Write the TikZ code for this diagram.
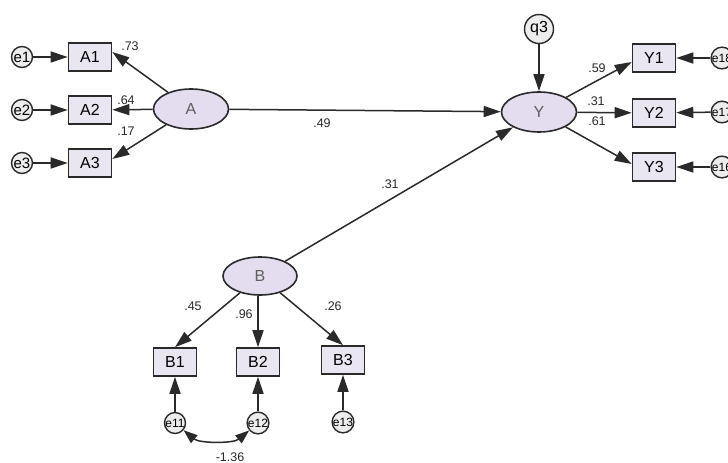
\documentclass[tikz,border=0pt]{standalone}
\usepackage{fontspec}
\setmainfont{Liberation Sans}
\usetikzlibrary{shapes.geometric,arrows.meta}
\definecolor{boxfill}{HTML}{E9E5F1}
\definecolor{latfill}{HTML}{E4DDF0}
\definecolor{errfill}{HTML}{EDEDED}
\definecolor{ink}{HTML}{2A2A2A}
\tikzset{
  obsbox/.style={draw=ink, fill=boxfill, line width=1.6pt, minimum width=43pt, minimum height=28pt, inner sep=0pt, font=\fontsize{16}{16}\selectfont},
  latent/.style={ellipse, draw=ink, fill=latfill, line width=1.6pt, minimum width=75pt, minimum height=40pt, inner sep=0pt, font=\fontsize{16}{16}\selectfont, text=ink!75},
  errc/.style={circle, draw=ink, fill=errfill, line width=1.4pt, minimum size=21pt, inner sep=0pt, font=\fontsize{15}{15}\selectfont},
  errs/.style={errc, minimum size=21pt, font=\fontsize{12}{12}\selectfont},
  pth/.style={draw=ink, line width=1.5pt, -{Triangle[length=17pt,width=11pt]}},
  coef/.style={font=\fontsize{12.5}{12.5}\selectfont, text=ink, inner sep=0pt}
}
\begin{document}
\begin{tikzpicture}[x=1pt,y=-1pt]
\useasboundingbox (0,0) rectangle (728,463);
\fill[white] (0,0) rectangle (728,463);
% observed A
\node[obsbox] (A1) at (90,57) {A1};
\node[obsbox] (A2) at (90,110) {A2};
\node[obsbox] (A3) at (90,163) {A3};
\node[errc] (e1) at (22,57) {e1};
\node[errc] (e2) at (22,110) {e2};
\node[errc] (e3) at (22,163) {e3};
\node[latent] (A) at (191,109) {A};
% Y side
\node[latent] (Y) at (539,112) {Y};
\node[errc, minimum size=29pt, font=\fontsize{16}{16}\selectfont] (q3) at (539,29) {q3};
\node[obsbox] (Y1) at (654,58) {Y1};
\node[obsbox] (Y2) at (654,113) {Y2};
\node[obsbox] (Y3) at (654,167) {Y3};
\node[errs] (e18) at (722,58) {e18};
\node[errs] (e17) at (722,112) {e17};
\node[errs] (e16) at (722,167) {e16};
% B side
\node[latent, minimum width=74pt, minimum height=38pt] (B) at (260,276) {B};
\node[obsbox] (B1) at (175,362) {B1};
\node[obsbox] (B2) at (258,362) {B2};
\node[obsbox] (B3) at (343,360) {B3};
\node[errs] (e11) at (175,423) {e11};
\node[errs] (e12) at (258,423) {e12};
\node[errs] (e13) at (343,422) {e13};
% error arrows
\draw[pth] (e1) -- (A1);
\draw[pth] (e2) -- (A2);
\draw[pth] (e3) -- (A3);
\draw[pth] (e18) -- (Y1);
\draw[pth] (e17) -- (Y2);
\draw[pth] (e16) -- (Y3);
\draw[pth] (q3) -- (Y);
\draw[pth] (e11) -- (B1);
\draw[pth] (e12) -- (B2);
\draw[pth] (e13) -- (B3);
% loadings
\draw[pth] (A) -- ([yshift=5pt]A1.east);
\draw[pth] (A) -- (A2);
\draw[pth] (A) -- ([yshift=4pt]A3.east);
\draw[pth] (Y) -- ([yshift=-4pt]Y1.west);
\draw[pth] (Y) -- (Y2);
\draw[pth] (Y) -- ([yshift=3pt]Y3.west);
\draw[pth] (B) -- (B1.north);
\draw[pth] (B.south -| B2.north) -- (B2.north);
\draw[pth] (B) -- (B3.north);
% structural
\draw[pth] (A) -- (Y);
\draw[pth] (B) -- (Y);
% covariance
\draw[draw=ink, line width=1.5pt, {Triangle[length=14pt,width=10pt]}-{Triangle[length=14pt,width=10pt]}] (e11) to[out=-40,in=-140, looseness=0.8] (e12);
% coefficients
\node[coef] (c1) at (130,46) {.73};
\node[coef] (c2) at (126,100) {.64};
\node[coef] (c3) at (126,131) {.17};
\node[coef] (c4) at (322,123) {.49};
\node[coef] (c5) at (390,184) {.31};
\node[coef] (c6) at (597,68) {.59};
\node[coef] (c7) at (596,101) {.31};
\node[coef] (c8) at (597,121) {.61};
\node[coef] (c9) at (193,306) {.45};
\node[coef] (c10) at (244,314) {.96};
\node[coef] (c11) at (333,306) {.26};
\node[coef] (c12) at (230,457) {-1.36};
\end{tikzpicture}
\end{document}
